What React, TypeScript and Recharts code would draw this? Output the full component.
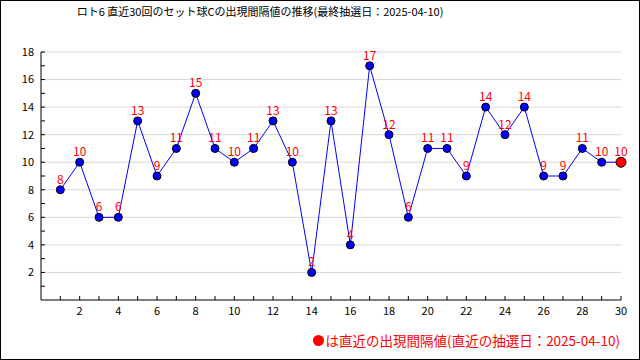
import { LineChart, Line, XAxis, YAxis, ReferenceLine, LabelList } from "recharts";

const title = "ロト6 直近30回のセット球Cの出現間隔値の推移(最終抽選日：2025-04-10)";
const legendText = "は直近の出現間隔値(直近の抽選日：2025-04-10)";

const rounds = [1, 2, 3, 4, 5, 6, 7, 8, 9, 10, 11, 12, 13, 14, 15, 16, 17, 18, 19, 20, 21, 22, 23, 24, 25, 26, 27, 28, 29, 30];
const intervals = [8, 10, 6, 6, 13, 9, 11, 15, 11, 10, 11, 13, 10, 2, 13, 4, 17, 12, 6, 11, 11, 9, 14, 12, 14, 9, 9, 11, 10, 10];

const xTicks = rounds;
const yTicks = [1, 2, 3, 4, 5, 6, 7, 8, 9, 10, 11, 12, 13, 14, 15, 16, 17, 18];
const gridValues = [2, 4, 6, 8, 10, 12, 14, 16, 18];

const data = rounds.map((r, i) => ({ round: r, value: intervals[i] }));

const font = "'Noto Sans CJK JP', 'DejaVu Sans', sans-serif";

const renderDot = (props: any) => {
  const { cx, cy, index } = props;
  if (index === data.length - 1) {
    return <circle key={`d${index}`} cx={cx} cy={cy} r={5} fill="#ff0000" stroke="#000" strokeWidth={1} />;
  }
  return <circle key={`d${index}`} cx={cx} cy={cy} r={4} fill="#0000ff" stroke="#000" strokeWidth={1} />;
};

export default function App() {
  return (
    <div style={{ position: "relative", width: 640, height: 360, background: "#fff", fontFamily: font }}>
      <style>{"body{margin:0}"}</style>
      <div style={{ position: "absolute", inset: 0, border: "1px solid #000", pointerEvents: "none", zIndex: 2 }} />
      <div style={{ position: "absolute", left: 0, top: 3, width: 520, textAlign: "center", fontSize: 11, color: "#000" }}>{title}</div>
      <LineChart width={640} height={360} data={data} margin={{ top: 52, right: 19, bottom: 40, left: 0 }}>
        {gridValues.map((v) => (
          <ReferenceLine key={v} y={v} stroke="#d8d8d8" strokeWidth={1} />
        ))}
        <XAxis
          dataKey="round"
          type="number"
          domain={[0, 30]}
          ticks={xTicks}
          interval={0}
          height={20}
          tickSize={-4}
          tickMargin={11}
          tickFormatter={(v: number) => (v % 2 === 0 ? String(v) : "")}
          axisLine={{ stroke: "#000" }}
          tickLine={{ stroke: "#000" }}
          tick={{ fill: "#000", fontSize: 11, fontFamily: font }}
        />
        <YAxis
          type="number"
          domain={[0, 18]}
          ticks={yTicks}
          interval={0}
          width={41}
          tickSize={-4}
          tickMargin={11}
          tickFormatter={(v: number) => (v % 2 === 0 ? String(v) : "")}
          axisLine={{ stroke: "#000" }}
          tickLine={{ stroke: "#000" }}
          tick={{ fill: "#000", fontSize: 11, fontFamily: font }}
        />
        <Line
          dataKey="value"
          stroke="#0000ff"
          strokeWidth={1}
          dot={renderDot}
          activeDot={false}
          isAnimationActive={false}
        >
          <LabelList dataKey="value" position="top" offset={6} fill="#ff0000" fontSize={12} fontFamily={font} />
        </Line>
      </LineChart>
      <div
        style={{
          position: "absolute",
          right: 20,
          top: 331,
          display: "flex",
          alignItems: "center",
          color: "#ff0000",
          fontSize: 13.5,
          lineHeight: "18px",
        }}
      >
        <span style={{ width: 11, height: 11, borderRadius: "50%", background: "#ff0000", display: "inline-block", marginRight: 2 }} />
        <span>{legendText}</span>
      </div>
    </div>
  );
}
